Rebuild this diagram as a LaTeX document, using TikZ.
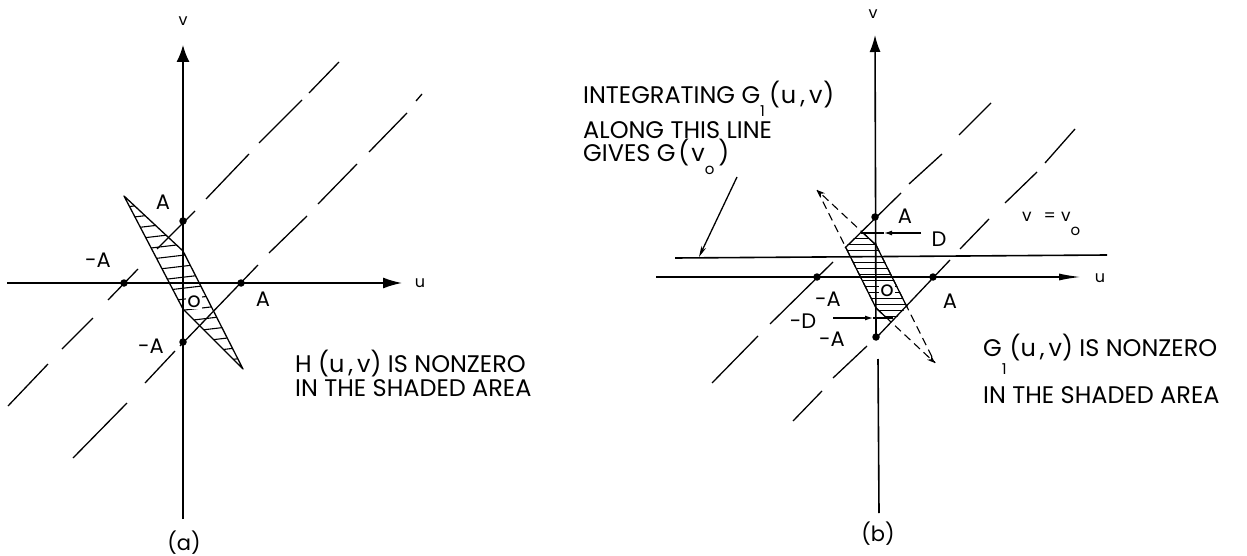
\documentclass[tikz,border=0pt]{standalone}
\usepackage{fontspec}
\setmainfont{Poppins}
\usetikzlibrary{arrows.meta}
\newcommand{\lowsub}[2]{\raisebox{-#1pt}{\fontsize{15}{15}\selectfont #2}}
\begin{document}
\begin{tikzpicture}[x=1pt,y=-1pt,
 axisline/.style={line width=1.6pt},
 diag/.style={line width=1.3pt},
 outl/.style={line width=1.3pt,line join=round},
 hatchline/.style={line width=1.1pt},
 pdash/.style={line width=1.1pt,dash pattern=on 8pt off 5pt},
 blackdot/.style={circle,fill=black,inner sep=0pt,minimum size=7.5pt},
 lab/.style={font=\fontsize{21}{22}\selectfont,inner sep=0pt},
 axlab/.style={font=\fontsize{16}{18}\selectfont,inner sep=0pt},
 txt/.style={font=\fontsize{24}{26}\selectfont,inner sep=0pt,anchor=base west},
]
\useasboundingbox (0,0) rectangle (1247,556);

% ================= Panel (a) =================
\coordinate (aT) at (124,196);
\coordinate (aP) at (183,251);
\coordinate (aB) at (243,369);
\coordinate (aQ) at (183,309);
\begin{scope}
  \clip (aT)--(aP)--(aB)--(aQ)--cycle;
  \foreach \y in {200,211,...,380} \draw[hatchline] (100,\y+10) -- (270,\y-10);
\end{scope}
\draw[outl] (aT)--(aP)--(aB)--(aQ)--cycle;

\foreach \xa/\ya/\xb/\yb in {8/406/48/364, 62/349/93/318, 108/300/138/269, 157/249/195/211, 206/199/249/154, 259/143/302/100, 309/93/339/62,
  73/458/127/403, 145/383/175/351, 180/346/258/265, 269/253/307/216, 318/204/357/164, 369/152/407/113, 416/101/422/94}
  \draw[diag] (\xa,\ya) -- (\xb,\yb);

\coordinate (avb) at (183,519);
\coordinate (avt) at (183,45);
\coordinate (aul) at (7,283);
\coordinate (aur) at (402,283);
\draw[axisline,-{Latex[length=17pt,width=13pt]}] (avb) -- (avt);
\draw[axisline,-{Latex[length=19pt,width=11pt]}] (aul) -- (aur);
\node[axlab] (avlab) at (183,21) {v};
\node[axlab] (aulab) at (420,283) {u};

\node[blackdot] (aAv) at (183,221) {};
\node[blackdot] (amAv) at (183,342) {};
\node[blackdot] (amAu) at (124,283) {};
\node[blackdot] (aAu) at (241,283) {};

\node[lab] (laAv) at (163,202) {A};
\node[lab] (lamAu) at (98,260) {-A};
\node[lab] (laAu) at (263,299) {A};
\node[lab] (lamAv) at (151,346) {-A};
\node[lab,fill=white,inner sep=1pt] (lao) at (194,302) {o};

\node[txt] (ta1) at (295,372) {H (u\,,\,v) IS NONZERO};
\node[txt] (ta2) at (295,396) {IN THE SHADED AREA};
\node[lab,font=\fontsize{21}{22}\selectfont] (acap) at (184,543) {(a)};

% ================= Panel (b) =================
\coordinate (bT) at (817,190);
\coordinate (bP) at (876,245);
\coordinate (bB) at (935,363);
\coordinate (bQ) at (876,308);
\begin{scope}
  \clip (bT)--(bP)--(bB)--(bQ)--cycle;
  \clip (675,417)--(1075,17)--(1077,137)--(677,537)--cycle;
  \clip (700,233) rectangle (1000,318);
  \foreach \y in {238,244,...,317} \draw[hatchline,line width=1pt] (780,\y) -- (960,\y);
\end{scope}
\begin{scope}
  \clip (675,417)--(1075,17)--(1077,137)--(677,537)--cycle;
  \clip (700,233) rectangle (1000,318);
  \draw[outl] (bT)--(bP)--(bB)--(bQ)--cycle;
\end{scope}
\draw[pdash,-{Stealth[length=8pt,width=6pt]}] (bP) -- (bT);
\draw[pdash] (bT) -- (bQ);
\draw[pdash] (bP) -- (bB);
\draw[pdash,-{Stealth[length=8pt,width=6pt]}] (bQ) -- (bB);

\foreach \xa/\ya/\xb/\yb in {991/103/959/135, 942/154/909/184, 901/193/845/248, 833/262/770/324, 758/336/712/383,
  1075/129/1045/163, 1037/172/1005/203, 989/219/960/249, 950/260/877/337, 867/346/833/378, 822/391/793/421}
  \draw[diag] (\xa,\ya) -- (\xb,\yb);

\coordinate (bvb) at (876,337);
\coordinate (bvt) at (875,35);
\coordinate (bvb2) at (878,359);
\coordinate (bvb3) at (879,513);
\draw[axisline,-{Latex[length=17pt,width=11pt]}] (bvb) -- (bvt);
\draw[axisline] (bvb2) -- (bvb3);
\coordinate (bul) at (656,277);
\coordinate (bur) at (1081,277);
\draw[axisline,-{Latex[length=22pt,width=7pt]}] (bul) -- (bur);
\node[axlab] (bvlab) at (873,14) {v};
\node[axlab] (bulab) at (1100,278) {u};

\coordinate (v0l) at (675,258);
\coordinate (v0r) at (1107,255);
\draw[axisline] (v0l) -- (v0r);

\coordinate (ptrs) at (737,177);
\coordinate (ptre) at (699,257);
\draw[line width=1.3pt,-{Stealth[length=11pt,width=5pt]}] (ptrs) -- (ptre);

% D and -D arrows
\coordinate (dstart) at (921,233);
\coordinate (dmid) at (884,233);
\coordinate (dend) at (861,233);
\draw[line width=1.2pt] (dmid) -- (dend);
\draw[line width=1.2pt,-{Latex[length=8pt,width=5pt]}] (dstart) -- (dmid);
\coordinate (mdstart) at (833,318);
\coordinate (mdmid) at (873,318);
\coordinate (mdend) at (893,318);
\draw[line width=1.2pt] (mdmid) -- (mdend);
\draw[line width=1.2pt,-{Latex[length=8pt,width=5pt]}] (mdstart) -- (mdmid);

\node[blackdot] (bAv) at (875,217) {};
\node[blackdot] (bmAv) at (876,337) {};
\node[blackdot] (bmAu) at (817,277) {};
\node[blackdot] (bAu) at (933,277) {};

\node[lab] (lbAv) at (905,216) {A};
\node[lab] (lbD) at (939,239) {D};
\node[lab] (lbmAu) at (828,299) {-A};
\node[lab] (lbAu) at (950,301) {A};
\node[lab] (lbmD) at (803,321) {-D};
\node[lab] (lbmAv) at (832,339) {-A};
\node[lab,fill=white,inner sep=1pt] (lbo) at (887,291) {o};

\node[txt,font=\fontsize{17}{18}\selectfont] (vv0) at (1022,222) {v\hspace{12pt}=\hspace{5pt}v\lowsub{14}{o}};

\node[txt] (tb1) at (583,104) {INTEGRATING G\lowsub{13}{1}\hspace{4pt}(\hspace{1pt}u\,,\,v\hspace{1pt})};
\node[txt] (tb2) at (583,139) {ALONG THIS LINE};
\node[txt] (tb3) at (583,162) {GIVES G\hspace{3pt}(\hspace{2pt}v\lowsub{13}{o}\hspace{4pt})};

\node[txt] (tb4) at (983,356) {G\lowsub{18}{1}\hspace{3pt}(u\,,\,v) IS NONZERO};
\node[txt] (tb5) at (983,403) {IN THE SHADED AREA};
\node[lab,font=\fontsize{21}{22}\selectfont] (bcap) at (878,534) {(b)};
\end{tikzpicture}
\end{document}
